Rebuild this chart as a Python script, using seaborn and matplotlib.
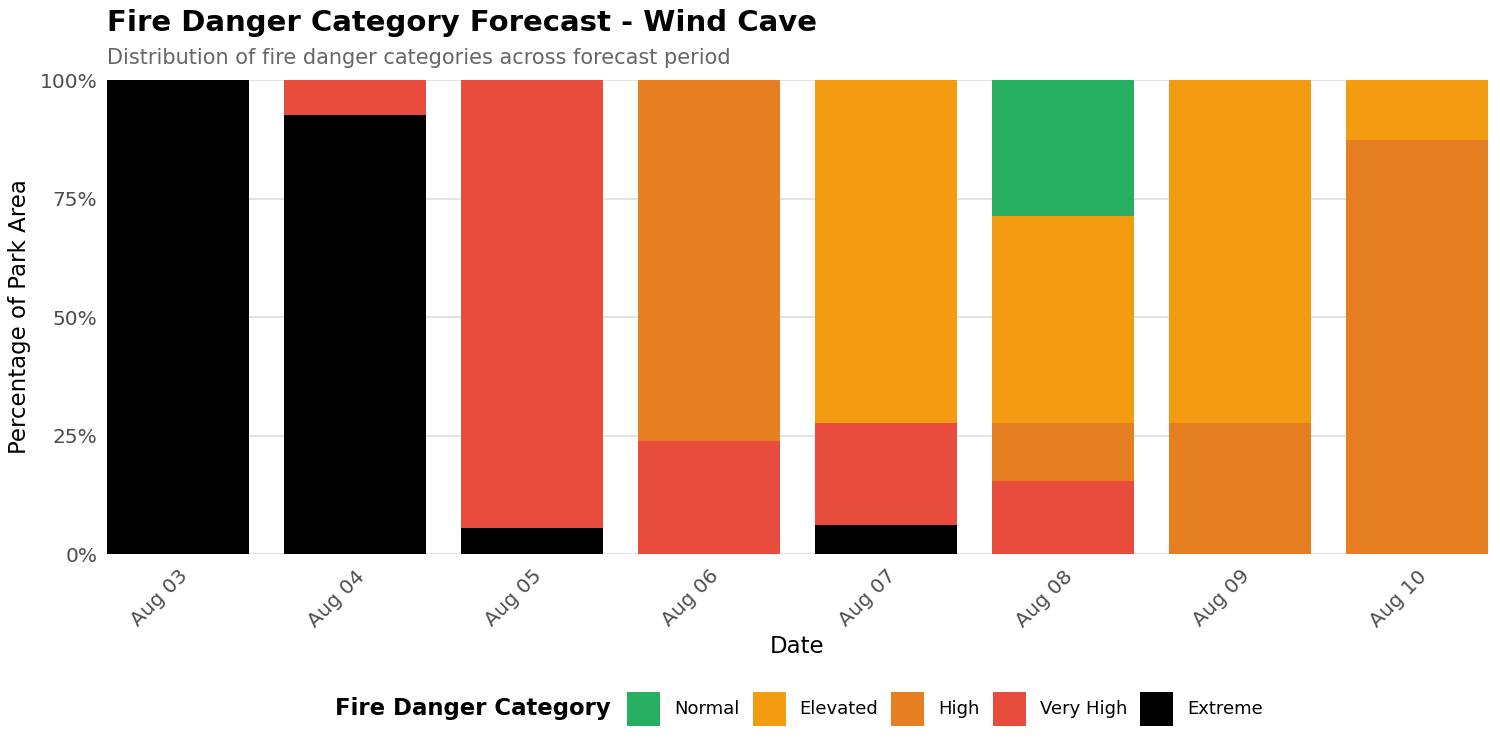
import matplotlib.pyplot as plt
import seaborn as sns
import pandas as pd
from matplotlib.patches import Patch
from matplotlib.ticker import PercentFormatter

plt.switch_backend('Agg')

# Данные: доля площади парка (%) по категориям для каждого дня
dates = ['Aug 03', 'Aug 04', 'Aug 05', 'Aug 06', 'Aug 07', 'Aug 08', 'Aug 09', 'Aug 10']
categories = ['Normal', 'Elevated', 'High', 'Very High', 'Extreme']
normal = [0, 0, 0, 0, 0, 28.7, 0, 0]
elevated = [0, 0, 0, 0, 72.4, 43.7, 72.4, 12.7]
high = [0, 0, 0, 76.2, 0, 12.2, 27.6, 87.3]
very_high = [0, 7.4, 94.5, 23.8, 21.5, 15.4, 0, 0]
extreme = [100, 92.6, 5.5, 0, 6.1, 0, 0, 0]

colors = {'Normal': '#27AE60', 'Elevated': '#F39C12', 'High': '#E67E22',
          'Very High': '#E74C3C', 'Extreme': '#000000'}

values = dict(zip(categories, [normal, elevated, high, very_high, extreme]))
rows = []
for cat in categories:
    for d, v in zip(dates, values[cat]):
        rows.append({'date': d, 'category': cat, 'pct': v})
df = pd.DataFrame(rows)
df['date'] = pd.Categorical(df['date'], categories=dates, ordered=True)

sns.set_style('white')
plt.rcParams['font.family'] = ['DejaVu Sans']
plt.rcParams['text.color'] = 'black'
plt.rcParams['axes.labelcolor'] = 'black'

fig = plt.figure(figsize=(15, 7.5), dpi=100)
ax = fig.add_axes([0.0713, 0.2613, 0.9207, 0.632])

# накопленные столбцы: рисуем от верхней категории к нижней, перекрывая
cum = df.pivot(index='date', columns='category', values='pct')[categories[::-1]].cumsum(axis=1)
for cat in categories:
    sub = pd.DataFrame({'date': dates, 'top': cum.loc[dates, cat].values})
    sns.barplot(data=sub, x='date', y='top', order=dates, color=colors[cat],
                width=0.8, saturation=1, ax=ax, zorder=2, linewidth=0)

ax.set_xlim(-0.4, 7.4)
ax.set_ylim(0, 100)
ax.set_yticks([0, 25, 50, 75, 100])
ax.yaxis.set_major_formatter(PercentFormatter(decimals=0))
ax.grid(axis='y', color='#DEDEDE', linewidth=1.2, zorder=0)
ax.set_axisbelow(True)
for s in ax.spines.values():
    s.set_visible(False)

ax.tick_params(axis='y', length=0, labelsize=14.5, labelcolor='#4D4D4D', pad=7)
ax.tick_params(axis='x', length=0, labelsize=14.5, labelcolor='#4D4D4D', pad=9)
plt.setp(ax.get_xticklabels(), rotation=45, ha='right', rotation_mode='anchor')
ax.set_xlabel('Date', fontsize=16.5, labelpad=3)
ax.set_ylabel('Percentage of Park Area', fontsize=16.5, labelpad=6)

fig.text(0.0713, 0.969, 'Fire Danger Category Forecast - Wind Cave', fontsize=21,
         fontweight='bold', va='center', ha='left')
fig.text(0.0713, 0.923, 'Distribution of fire danger categories across forecast period',
         fontsize=15, color='#666666', va='center', ha='left')

handles = [Patch(facecolor=colors[c], edgecolor='none') for c in categories]
fig.text(0.2233, 0.0547, 'Fire Danger Category', fontsize=16.4, fontweight='bold',
         va='center', ha='left')
fig.legend(handles, categories, loc='center left', bbox_to_anchor=(0.418, 0.0547),
           ncol=5, frameon=False, fontsize=13, handlelength=1.83, handleheight=2.52,
           handletextpad=0.78, columnspacing=0.72, borderaxespad=0, borderpad=0)

fig.savefig('out.png', dpi=100)
